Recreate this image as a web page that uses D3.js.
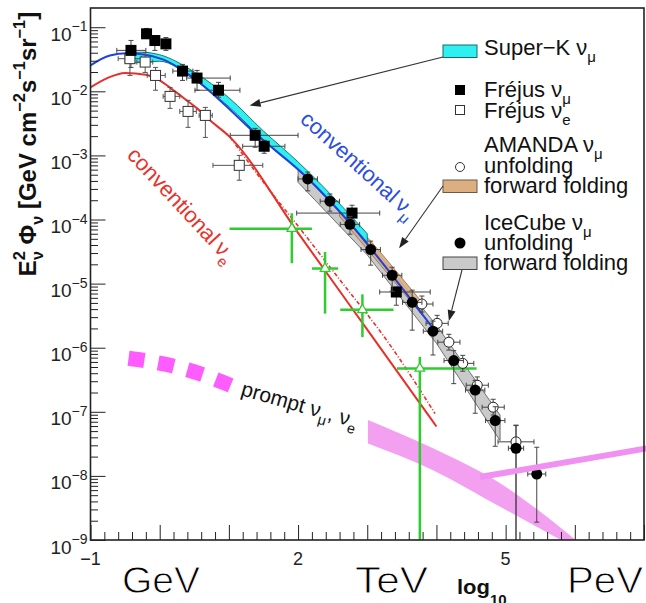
<!DOCTYPE html>
<html>
<head>
<meta charset="utf-8">
<script src="https://cdn.jsdelivr.net/npm/d3@7"></script>
<style>
  html, body { margin: 0; padding: 0; background: #fff; }
  svg { display: block; }
  text { font-family: "Liberation Sans", Arial, Helvetica, sans-serif; }
</style>
</head>
<body>
<div id="chart"></div>
<script>
// x values are log10(E / GeV), y values are E^2 flux in GeV cm^-2 s^-1 sr^-1

// conventional nu_mu (blue) and nu_e (red) model curves
const convMuLogE = [-1, -0.72, -0.47, 0, 0.48, 0.84, 1.38, 2.14, 2.75, 3.36, 3.95];
const convMuFlux = [0.0254, 0.0363, 0.0391, 0.0327, 0.0165, 0.00776, 0.00221, 4.4e-4, 8.75e-5, 1.35e-5, 2.02e-6];
const convELogE = [-1, -0.75, -0.5, -0.2, 0, 0.2, 0.39, 0.54, 0.68, 1.02, 2, 3, 4];
const convEFlux = [0.0115, 0.0162, 0.0193, 0.0182, 0.0148, 0.01035, 0.00723, 0.00542, 0.00389, 0.00191, 6.2e-5, 1.91e-6, 5.9e-8];
const convE2LogE = [1.02, 1.5, 2.0, 2.6, 3.28, 3.98];
const convE2Flux = [1.91e-3, 3.8e-4, 7.9e-5, 1.16e-5, 1.31e-6, 9.4e-8];

// prompt nu_mu, nu_e
const promptDashLogE = [-0.45, 0.12, 0.57, 1.1];
const promptDashFlux = [6.84e-7, 5.41e-7, 3.97e-7, 2.4e-7];
const promptBandLogE = [3.01, 3.95, 4.92, 6.0];
const promptBandHi = [7.43e-8, 2.69e-8, 7.66e-9, 1.03e-9];
const promptBandLo = [3.21e-8, 1.23e-8, 3.3e-9, 7.6e-10];
const promptLineLogE = [4.63, 7.05];
const promptLineFlux = [9.6e-9, 2.7e-8];

// Super-K band
const superKLogE = [-0.5, -0.25, 0, 0.5, 1.0, 1.5, 2.0, 2.5, 3.0];
const superKHi = [0.0407, 0.0407, 0.0372, 0.02, 0.00794, 0.0024, 7.9e-4, 2.29e-4, 6.0e-5];
const superKLo = [0.0275, 0.0282, 0.0295, 0.0151, 0.00575, 0.00174, 6.0e-4, 1.7e-4, 4.4e-5];

// forward folding bands
const icBandLogE = [2.0, 3.0, 4.0, 4.92];
const icBandHi = [6.3e-4, 4.8e-5, 2.24e-6, 8.9e-8];
const icBandLo = [3.8e-4, 2.8e-5, 1.17e-6, 3.55e-8];
const amBandLogE = [2.6, 3.2, 3.8];
const amBandHi = [1.66e-4, 3.0e-5, 5.0e-6];
const amBandLo = [1.12e-4, 1.9e-5, 3.16e-6];

// Frejus nu_mu
const fmLogE = [-0.415, -0.19, -0.07, 0.09, 0.33, 0.54, 0.85, 1.38, 1.51, 2.78, 3.42];
const fmFlux = [0.0435, 0.079, 0.062, 0.055, 0.0207, 0.0161, 0.0104, 0.00206, 0.00139, 1.26e-4, 7.4e-6];
const fmLo = [0.0236, 0.0668, 0.0435, 0.0435, 0.0148, 0.0104, 0.0081, 0.00134, 0.00108, 9.7e-5, 4.6e-6];
const fmHi = [0.0622, 0.0957, 0.074, 0.069, 0.0263, 0.0212, 0.0138, 0.00264, 0.00172, 1.67e-4, 8.8e-6];
const fmXlo = [-0.62, -0.24, -0.12, 0.04, 0.19, 0.39, 0.51, 1.02, 1.2, 1.98, 3.18];
const fmXhi = [-0.2, -0.14, -0.02, 0.14, 0.48, 1.02, 1.16, 2.0, 1.81, 3.18, 3.91];

// Frejus nu_e
const feLogE = [-0.43, -0.21, -0.06, 0.15, 0.41, 0.66, 1.15];
const feFlux = [0.0323, 0.0286, 0.0177, 0.00834, 0.00486, 0.00421, 7.0e-4];
const feLo = [0.0177, 0.0197, 0.0104, 0.00542, 0.00274, 0.00191, 4.1e-4];
const feHi = [0.052, 0.0405, 0.0236, 0.0115, 0.00723, 0.00562, 0.001];
const feXlo = [-0.6, -0.33, -0.18, 0.05, 0.29, 0.57, 0.77];
const feXhi = [-0.26, -0.1, 0.08, 0.29, 0.53, 0.76, 1.49];

// AMANDA nu_mu unfolding
const amLogE = [3.79, 4.01, 4.18, 4.38, 4.59, 4.82, 5.15];
const amFlux = [4.8e-6, 2.4e-6, 1.22e-6, 5.7e-7, 2.6e-7, 1.18e-7, 3.4e-8];
const amLo = [3.6e-6, 1.8e-6, 9.2e-7, 4.3e-7, 1.95e-7, 8.9e-8, 1e-10];
const amHi = [6.4e-6, 3.2e-6, 1.62e-6, 7.6e-7, 3.5e-7, 1.57e-7, 6.2e-8];
const amHalfW = [0.16, 0.16, 0.16, 0.16, 0.16, 0.16, 0.26];

// IceCube nu_mu unfolding
const icLogE = [2.14, 2.46, 2.75, 3.05, 3.36, 3.65, 3.95, 4.25, 4.56, 4.85, 5.15, 5.45];
const icFlux = [4.3e-4, 1.93e-4, 8.4e-5, 3.4e-5, 1.35e-5, 5.1e-6, 1.81e-6, 6.3e-7, 2.18e-7, 7.3e-8, 2.7e-8, 1.07e-8];
const icLo = [2.8e-4, 1.35e-4, 5.9e-5, 1.94e-5, 7.6e-6, 1.88e-6, 7.7e-7, 2.75e-7, 9.5e-8, 2.9e-8, 1e-10, 1.9e-9];
const icHi = [5.5e-4, 2.5e-4, 1.12e-4, 4.6e-5, 1.8e-5, 7.9e-6, 2.6e-6, 9.0e-7, 3.1e-7, 1.2e-7, 6.1e-8, 2.8e-8];
const icHalfW = [0.14, 0.14, 0.14, 0.14, 0.14, 0.14, 0.14, 0.14, 0.14, 0.14, 0.11, 0.13];

// green crosses (nu_e measurements)
const dcLogE = [1.91, 2.39, 2.93, 3.76];
const dcFlux = [7.2e-5, 1.72e-5, 3.9e-6, 4.75e-7];
const dcLo = [2.08e-5, 3.4e-6, 1.46e-6, 1e-10];
const dcHi = [1.25e-4, 3.1e-5, 6.8e-6, 7.2e-7];
const dcXlo = [1.01, 2.2, 2.61, 3.43];
const dcXhi = [2.2, 2.58, 3.38, 4.58];

// axes (labels 0 and 1 sit under the "GeV" overlay and are not shown)
const xTickValues = [-1, 0, 1, 2, 3, 4, 5, 6, 7];
const xTickLabels = ["\u22121", "", "", "2", "3", "4", "5", "6", "7"];
const yTickExponents = [-9, -8, -7, -6, -5, -4, -3, -2, -1];

// arrow tips (log10 E, flux)
const arrowTipLogE = [1.3, 3.46, 4.18];
const arrowTipFlux = [6.0e-3, 3.56e-5, 2.6e-6];

const width = 646;
const height = 603;
const marginLeft = 90.5, marginRight = 2, marginTop = 8, marginBottom = 63;

const x = d3.scaleLinear().domain([-1, 7]).range([marginLeft, width - marginRight]);
const y = d3.scaleLog().domain([1e-9, Math.pow(10, -0.7)]).range([height - marginBottom, marginTop]);

const zip = (...cols) => cols[0].map((_, i) => cols.map(c => c[i]));

const svg = d3.select("#chart").append("svg")
    .attr("width", width)
    .attr("height", height)
    .attr("viewBox", [0, 0, width, height]);

svg.append("clipPath").attr("id", "plot-clip")
    .append("rect")
    .attr("x", x(-1)).attr("y", y.range()[1])
    .attr("width", x(7) - x(-1)).attr("height", y.range()[0] - y.range()[1]);

// only the top sliver of some tick labels peeks out above the overlays
svg.append("clipPath").attr("id", "label-clip")
    .append("rect").attr("x", 0).attr("y", 540).attr("width", width).attr("height", 11);

const plot = svg.append("g").attr("clip-path", "url(#plot-clip)");

const line = d3.line().x(d => x(d[0])).y(d => y(d[1])).curve(d3.curveMonotoneX);
const area = d3.area().x(d => x(d[0])).y0(d => y(d[2])).y1(d => y(d[1])).curve(d3.curveMonotoneX);

// rich text: parts [string, kind], kind null | "sub" | "sup"
function rich(sel, parts, size) {
    let off = 0;
    parts.forEach(([s, k]) => {
        const target = k === "sub" ? size * 0.3 : k === "sup" ? -size * 0.45 : 0;
        sel.append("tspan").attr("dy", target - off).attr("font-size", k ? size * 0.68 : size).text(s);
        off = target;
    });
    return sel;
}

// ---- model curves ----
plot.append("path")
    .datum(zip(convELogE, convEFlux))
    .attr("fill", "none").attr("stroke", "#e8302a").attr("stroke-width", 2)
    .attr("d", line);

plot.append("path")
    .datum(zip(convE2LogE, convE2Flux))
    .attr("fill", "none").attr("stroke", "#e8302a").attr("stroke-width", 1.6)
    .attr("stroke-dasharray", "4,2,1,2")
    .attr("d", line);

plot.append("path")
    .datum(zip(promptDashLogE, promptDashFlux))
    .attr("fill", "none").attr("stroke", "#ff5cff").attr("stroke-width", 15)
    .attr("stroke-dasharray", "16,14")
    .attr("d", line);

plot.append("path")
    .datum(zip(promptBandLogE, promptBandHi, promptBandLo))
    .attr("fill", "#f4a0f0").attr("stroke", "none")
    .attr("d", area);

svg.append("path")
    .datum(zip(promptLineLogE, promptLineFlux))
    .attr("fill", "none").attr("stroke", "#f090f0").attr("stroke-width", 6)
    .attr("d", d3.line().x(d => x(d[0])).y(d => y(d[1])));

// forward folding bands
plot.append("path")
    .datum(zip(icBandLogE, icBandHi, icBandLo))
    .attr("fill", "#cacaca").attr("stroke", "#555").attr("stroke-width", 0.8)
    .attr("d", area.curve(d3.curveLinear));

plot.append("path")
    .datum(zip(amBandLogE, amBandHi, amBandLo))
    .attr("fill", "#dcae80").attr("stroke", "#8a6a4a").attr("stroke-width", 0.8)
    .attr("fill-opacity", 0.9)
    .attr("d", area);

plot.append("path")
    .datum(zip(superKLogE, superKHi, superKLo))
    .attr("fill", "#2ef0f0").attr("stroke", "#1b7a6a").attr("stroke-width", 1)
    .attr("d", area.curve(d3.curveMonotoneX));

plot.append("path")
    .datum(zip(convMuLogE, convMuFlux))
    .attr("fill", "none").attr("stroke", "#2040e0").attr("stroke-width", 2)
    .attr("d", line);

// ---- error bars helper ----
function errorBars(g, xs, ys, lo, hi, xlo, xhi, color, width, cap) {
    const rows = xs.map((v, i) => ({v, f: ys[i], lo: lo[i], hi: hi[i], xlo: xlo[i], xhi: xhi[i]}));
    const eg = g.append("g").attr("stroke", color).attr("stroke-width", width).attr("fill", "none");
    eg.selectAll(".v").data(rows).join("line")
        .attr("x1", d => x(d.v)).attr("x2", d => x(d.v))
        .attr("y1", d => y(d.lo)).attr("y2", d => y(d.hi));
    eg.selectAll(".h").data(rows).join("line")
        .attr("x1", d => x(d.xlo)).attr("x2", d => x(d.xhi))
        .attr("y1", d => y(d.f)).attr("y2", d => y(d.f));
    if (cap > 0) {
        const caps = [];
        rows.forEach(d => {
            caps.push([x(d.v) - cap, y(d.lo), x(d.v) + cap, y(d.lo)]);
            caps.push([x(d.v) - cap, y(d.hi), x(d.v) + cap, y(d.hi)]);
            caps.push([x(d.xlo), y(d.f) - cap, x(d.xlo), y(d.f) + cap]);
            caps.push([x(d.xhi), y(d.f) - cap, x(d.xhi), y(d.f) + cap]);
        });
        eg.selectAll(".c").data(caps).join("line")
            .attr("x1", d => d[0]).attr("y1", d => d[1])
            .attr("x2", d => d[2]).attr("y2", d => d[3]);
    }
}

// green crosses
errorBars(plot, dcLogE, dcFlux, dcLo, dcHi, dcXlo, dcXhi, "#2ecc2e", 2.5, 0);
const tri = d3.symbol().type(d3.symbolTriangle).size(40);
plot.append("g").selectAll("path").data(zip(dcLogE, dcFlux)).join("path")
    .attr("transform", d => `translate(${x(d[0])},${y(d[1])})`)
    .attr("d", tri).attr("fill", "#fff").attr("stroke", "#2ecc2e").attr("stroke-width", 1.2);

// Frejus
errorBars(plot, feLogE, feFlux, feLo, feHi, feXlo, feXhi, "#555", 1, 2.5);
errorBars(plot, fmLogE, fmFlux, fmLo, fmHi, fmXlo, fmXhi, "#444", 1, 2.5);
plot.append("g").selectAll("rect").data(zip(feLogE, feFlux)).join("rect")
    .attr("x", d => x(d[0]) - 5).attr("y", d => y(d[1]) - 5)
    .attr("width", 10).attr("height", 10)
    .attr("fill", "#fff").attr("stroke", "#333").attr("stroke-width", 1);
plot.append("g").selectAll("rect").data(zip(fmLogE, fmFlux)).join("rect")
    .attr("x", d => x(d[0]) - 5.5).attr("y", d => y(d[1]) - 5.5)
    .attr("width", 11).attr("height", 11)
    .attr("fill", "#000");

// AMANDA
errorBars(plot, amLogE, amFlux, amLo, amHi,
    amLogE.map((v, i) => v - amHalfW[i]), amLogE.map((v, i) => v + amHalfW[i]), "#444", 1, 2.5);
plot.append("g").selectAll("circle").data(zip(amLogE, amFlux)).join("circle")
    .attr("cx", d => x(d[0])).attr("cy", d => y(d[1])).attr("r", 5)
    .attr("fill", "#fff").attr("stroke", "#222").attr("stroke-width", 1);

// IceCube
errorBars(plot, icLogE, icFlux, icLo, icHi,
    icLogE.map((v, i) => v - icHalfW[i]), icLogE.map((v, i) => v + icHalfW[i]), "#444", 1, 2.5);
plot.append("g").selectAll("circle").data(zip(icLogE, icFlux)).join("circle")
    .attr("cx", d => x(d[0])).attr("cy", d => y(d[1])).attr("r", 5.5)
    .attr("fill", "#000");

// ---- axes ----
const yMajor = yTickExponents.map(e => Math.pow(10, e));
const yMinor = [];
yTickExponents.forEach(e => { for (let k = 2; k <= 9; k++) { const v = k * Math.pow(10, e); if (v <= y.domain()[1]) yMinor.push(v); } });
const xMinor = d3.range(-1, 7.001, 0.2).filter(v => Math.abs(v - Math.round(v)) > 1e-6);

const axisG = svg.append("g").attr("stroke-width", 1);
axisG.append("g").attr("transform", `translate(0,${y.range()[0]})`)
    .call(d3.axisTop(x).tickValues(xTickValues).tickSize(15).tickFormat(""))
    .call(g => g.select(".domain").remove());
axisG.append("g").attr("transform", `translate(0,${y.range()[0]})`)
    .call(d3.axisTop(x).tickValues(xMinor).tickSize(8).tickFormat(""))
    .call(g => g.select(".domain").remove());
axisG.append("g").attr("transform", `translate(${x(-1)},0)`)
    .call(d3.axisRight(y).tickValues(yMajor).tickSize(15).tickFormat(""))
    .call(g => g.select(".domain").remove());
axisG.append("g").attr("transform", `translate(${x(-1)},0)`)
    .call(d3.axisRight(y).tickValues(yMinor).tickSize(7.5).tickFormat(""))
    .call(g => g.select(".domain").remove());
axisG.selectAll(".tick line").attr("stroke", "#222");

svg.append("rect")
    .attr("x", x(-1)).attr("y", y.range()[1])
    .attr("width", x(7) - x(-1)).attr("height", y.range()[0] - y.range()[1])
    .attr("fill", "none").attr("stroke", "#222").attr("stroke-width", 1.6);

// y tick labels
yTickExponents.forEach(e => {
    const t = svg.append("text")
        .attr("x", x(-1) - 3).attr("y", y(Math.pow(10, e)) + 13.5)
        .attr("text-anchor", "end").attr("fill", "#222");
    t.append("tspan").attr("font-size", 19).text("10");
    t.append("tspan").attr("font-size", 14).attr("dy", -9.5).text("\u2212" + Math.abs(e));
});

// x tick labels; 3, 4, 6 and 7 are partly hidden by the energy overlays
const hiddenBelow = [3, 4, 6, 7];
svg.append("g").selectAll("text").data(xTickValues.filter((d, i) => xTickLabels[i] !== "")).join("text")
    .attr("x", d => x(d)).attr("y", 565)
    .attr("clip-path", d => hiddenBelow.includes(d) ? "url(#label-clip)" : null)
    .attr("text-anchor", "middle").attr("font-size", 18).attr("fill", "#222")
    .text(d => xTickLabels[xTickValues.indexOf(d)]);

// y axis title
const yTitle = svg.append("text")
    .attr("transform", "translate(36,144) rotate(-90)")
    .attr("text-anchor", "middle").attr("font-weight", "bold").attr("fill", "#111");
rich(yTitle, [["E", null], ["2", "sup"]], 24);
yTitle.append("tspan").attr("dx", -9).attr("dy", 7.2 + 10.8).attr("font-size", 16).text("\u03bd");
yTitle.append("tspan").attr("dy", -7.2).attr("font-size", 24).text(" \u03a6");
rich(yTitle, [["\u03bd", "sub"], [" [GeV cm", null], ["\u22122", "sup"], ["s", null], ["\u22121", "sup"], ["sr", null], ["\u22121", "sup"], ["]", null]], 24);

// ---- curve labels ----
const blueLabel = svg.append("text")
    .attr("transform", "translate(299,121) rotate(42)")
    .attr("fill", "#2b4de0");
rich(blueLabel, [["conventional\u2009", null], ["\u03bd", null], ["\u03bc", "sub"]], 22);

const redLabel = svg.append("text")
    .attr("transform", "translate(126,156) rotate(47)")
    .attr("fill", "#e8322a");
rich(redLabel, [["conventional\u2009", null], ["\u03bd", null], ["e", "sub"]], 22);

const promptLabel = svg.append("text")
    .attr("transform", "translate(240,395) rotate(16)")
    .attr("fill", "#111");
rich(promptLabel, [["prompt \u03bd", null], ["\u03bc", "sub"], [", \u03bd", null], ["e", "sub"]], 21);

// ---- legend ----
const legendX = 484;
const legendRows = [
    {y: 55, parts: [["Super\u2212K \u03bd", null], ["\u03bc", "sub"]]},
    {y: 97, parts: [["Fr\u00e9jus \u03bd", null], ["\u03bc", "sub"]]},
    {y: 118, parts: [["Fr\u00e9jus \u03bd", null], ["e", "sub"]]},
    {y: 152, parts: [["AMANDA \u03bd", null], ["\u03bc", "sub"]]},
    {y: 173, parts: [["unfolding", null]]},
    {y: 193, parts: [["forward folding", null]]},
    {y: 230, parts: [["IceCube \u03bd", null], ["\u03bc", "sub"]]},
    {y: 250, parts: [["unfolding", null]]},
    {y: 270, parts: [["forward folding", null]]}
];
legendRows.forEach(r => {
    const t = svg.append("text").attr("x", legendX).attr("y", r.y).attr("fill", "#111");
    rich(t, r.parts, 22);
});
const legendBoxes = [
    {y: 45, fill: "#2ef0f0", stroke: "#1b6a6a"},
    {y: 180, fill: "#dcae80", stroke: "#6a5a4a"},
    {y: 257, fill: "#cacaca", stroke: "#444"}
];
svg.append("g").selectAll("rect").data(legendBoxes).join("rect")
    .attr("x", 443).attr("y", d => d.y).attr("width", 34).attr("height", 12.5)
    .attr("fill", d => d.fill).attr("stroke", d => d.stroke).attr("stroke-width", 1);
svg.append("rect").attr("x", 455).attr("y", 85).attr("width", 10).attr("height", 10).attr("fill", "#000");
svg.append("rect").attr("x", 455.5).attr("y", 105.5).attr("width", 9).attr("height", 9)
    .attr("fill", "#fff").attr("stroke", "#333");
svg.append("circle").attr("cx", 460).attr("cy", 167).attr("r", 4.5)
    .attr("fill", "#fff").attr("stroke", "#333");
svg.append("circle").attr("cx", 460).attr("cy", 243).attr("r", 5.5).attr("fill", "#000");

// ---- arrows from legend to bands ----
const arrowTails = [[443, 57], [443, 186], [462, 270]];
arrowTails.forEach(([tx, ty], i) => {
    const hx = x(arrowTipLogE[i]), hy = y(arrowTipFlux[i]);
    const ang = Math.atan2(hy - ty, hx - tx);
    const len = 11, half = 4;
    const bx = hx - len * Math.cos(ang), by = hy - len * Math.sin(ang);
    svg.append("line").attr("x1", tx).attr("y1", ty).attr("x2", bx).attr("y2", by)
        .attr("stroke", "#333").attr("stroke-width", 1.1);
    svg.append("path")
        .attr("d", `M${hx},${hy}L${bx + half * Math.sin(ang)},${by - half * Math.cos(ang)}L${bx - half * Math.sin(ang)},${by + half * Math.cos(ang)}Z`)
        .attr("fill", "#222");
});

// ---- energy scale overlay ----
const overlays = [
    {x0: 106, x1: 250, top: 546, label: "GeV", tx: 122, len: 78},
    {x0: 335, x1: 450, top: 551, label: "TeV", tx: 355, len: 73},
    {x0: 550, x1: 646, top: 551, label: "PeV", tx: 567, len: 76}
];
overlays.forEach(o => {
    svg.append("rect").attr("x", o.x0).attr("y", o.top).attr("width", o.x1 - o.x0).attr("height", height - o.top)
        .attr("fill", "#fff");
    // white stroke over the fill thins the glyphs toward the light face of the original
    svg.append("text").attr("x", o.tx).attr("y", 593)
        .attr("font-family", "'Noto Sans CJK JP', 'Noto Sans', sans-serif")
        .attr("font-weight", 300).attr("font-size", 36)
        .attr("textLength", o.len).attr("lengthAdjust", "spacingAndGlyphs")
        .attr("fill", "#000").attr("stroke", "#fff").attr("stroke-width", 0.9)
        .text(o.label);
});
const logText = svg.append("text").attr("x", 457).attr("y", 594).attr("font-weight", "bold").attr("fill", "#111");
logText.append("tspan").attr("font-size", 21).attr("textLength", 33).attr("lengthAdjust", "spacingAndGlyphs").text("log");
logText.append("tspan").attr("font-size", 15).attr("dy", 11).text("10");
</script>
</body>
</html>
